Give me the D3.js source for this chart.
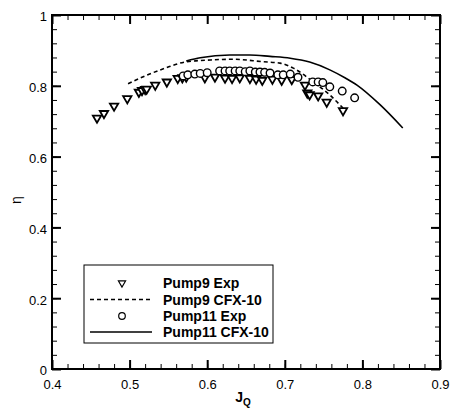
<!DOCTYPE html>
<html>
<head>
<meta charset="utf-8">
<script src="https://cdn.jsdelivr.net/npm/d3@7"></script>
<style>
  html, body { margin: 0; padding: 0; background: #fff; }
  svg { display: block; font-family: "Liberation Sans", Arial, Helvetica, sans-serif; }
</style>
</head>
<body>
<svg id="chart" width="450" height="408"></svg>
<script>
// Pump efficiency vs. flow coefficient J_Q
const pump9ExpJ = [0.458, 0.467, 0.480, 0.497, 0.512, 0.516, 0.520, 0.522, 0.533, 0.548, 0.562, 0.568, 0.573,
  0.597, 0.610, 0.623, 0.632, 0.642, 0.655, 0.663, 0.671, 0.684, 0.696, 0.709, 0.726, 0.729, 0.732, 0.743, 0.754, 0.775];
const pump9ExpEta = [0.709, 0.722, 0.743, 0.764, 0.782, 0.787, 0.790, 0.791, 0.802, 0.811, 0.821, 0.823, 0.825,
  0.823, 0.825, 0.822, 0.821, 0.823, 0.821, 0.819, 0.816, 0.819, 0.816, 0.818, 0.802, 0.780, 0.775, 0.772, 0.754, 0.730];

const pump9CfxJ = [0.498, 0.520, 0.546, 0.571, 0.604, 0.633, 0.672, 0.694, 0.711, 0.736, 0.758, 0.775];
const pump9CfxEta = [0.806, 0.828, 0.850, 0.867, 0.873, 0.875, 0.868, 0.864, 0.850, 0.812, 0.774, 0.737];

const pump11ExpJ = [0.569, 0.575, 0.584, 0.591, 0.600, 0.616, 0.623, 0.629, 0.636, 0.642, 0.649, 0.655, 0.662,
  0.668, 0.674, 0.681, 0.691, 0.698, 0.707, 0.717, 0.736, 0.743, 0.749, 0.758, 0.774, 0.790];
const pump11ExpEta = [0.828, 0.831, 0.833, 0.835, 0.837, 0.842, 0.842, 0.842, 0.842, 0.842, 0.840, 0.842, 0.839,
  0.839, 0.838, 0.836, 0.831, 0.831, 0.833, 0.824, 0.811, 0.811, 0.809, 0.797, 0.785, 0.766];

const pump11CfxJ = [0.573, 0.591, 0.629, 0.655, 0.681, 0.707, 0.732, 0.758, 0.778, 0.793, 0.823, 0.852];
const pump11CfxEta = [0.870, 0.879, 0.887, 0.887, 0.883, 0.878, 0.867, 0.845, 0.822, 0.802, 0.746, 0.681];

const xMajorTicks = [0.4, 0.5, 0.6, 0.7, 0.8, 0.9];
const yMajorTicks = [0, 0.2, 0.4, 0.6, 0.8, 1];
const legendLabels = ["Pump9 Exp", "Pump9 CFX-10", "Pump11 Exp", "Pump11 CFX-10"];

const svg = d3.select("#chart");
const m = { left: 52, right: 440, top: 15, bottom: 369 };

const x = d3.scaleLinear().domain([0.4, 0.9]).range([m.left, m.right]);
const y = d3.scaleLinear().domain([0, 1]).range([m.bottom, m.top]);

const xMinor = d3.range(0.4, 0.9001, 0.02).map(v => +v.toFixed(2));
const yMinor = d3.range(0, 1.0001, 0.04).map(v => +v.toFixed(2));

function styleAxis(g, w) {
  g.select(".domain").remove();
  g.selectAll(".tick line").attr("stroke", "#000").attr("stroke-width", w);
}

// minor ticks, all four sides, pointing inward
svg.append("g").attr("transform", `translate(0,${m.bottom})`)
  .call(d3.axisBottom(x).tickValues(xMinor).tickSize(-5).tickFormat(""))
  .call(g => styleAxis(g, 1));
svg.append("g").attr("transform", `translate(0,${m.top})`)
  .call(d3.axisTop(x).tickValues(xMinor).tickSize(-5).tickFormat(""))
  .call(g => styleAxis(g, 1));
svg.append("g").attr("transform", `translate(${m.left},0)`)
  .call(d3.axisLeft(y).tickValues(yMinor).tickSize(-5).tickFormat(""))
  .call(g => styleAxis(g, 1));
svg.append("g").attr("transform", `translate(${m.right},0)`)
  .call(d3.axisRight(y).tickValues(yMinor).tickSize(-5).tickFormat(""))
  .call(g => styleAxis(g, 1));

// major ticks with labels
svg.append("g").attr("transform", `translate(0,${m.bottom})`)
  .call(d3.axisBottom(x).tickValues(xMajorTicks).tickSize(-9).tickPadding(6).tickFormat(d3.format(".1f")))
  .call(g => styleAxis(g, 2))
  .call(g => g.selectAll("text").attr("font-size", 13).attr("fill", "#000").attr("dy", "1.05em"));
svg.append("g").attr("transform", `translate(0,${m.top})`)
  .call(d3.axisTop(x).tickValues(xMajorTicks).tickSize(-9).tickFormat(""))
  .call(g => styleAxis(g, 2));
svg.append("g").attr("transform", `translate(${m.left},0)`)
  .call(d3.axisLeft(y).tickValues(yMajorTicks).tickSize(-9).tickPadding(5)
    .tickFormat(d => d === 0 || d === 1 ? d3.format("d")(d) : d3.format(".1f")(d)))
  .call(g => styleAxis(g, 2))
  .call(g => g.selectAll("text").attr("font-size", 13).attr("fill", "#000").attr("dy", "0.45em"));
svg.append("g").attr("transform", `translate(${m.right},0)`)
  .call(d3.axisRight(y).tickValues(yMajorTicks).tickSize(-9).tickFormat(""))
  .call(g => styleAxis(g, 2));

// frame
svg.append("rect")
  .attr("x", m.left).attr("y", m.top)
  .attr("width", m.right - m.left).attr("height", m.bottom - m.top)
  .attr("fill", "none").attr("stroke", "#000").attr("stroke-width", 2);

// axis titles
const xt = svg.append("text")
  .attr("x", (m.left + m.right) / 2 - 3).attr("y", 402)
  .attr("text-anchor", "middle").attr("font-weight", "bold").attr("font-size", 14);
xt.append("tspan").text("J");
xt.append("tspan").attr("font-size", 10).attr("dy", 4).text("Q");

svg.append("text")
  .attr("transform", `translate(21,${(m.top + m.bottom) / 2 + 8}) rotate(-90)`)
  .attr("text-anchor", "middle").attr("font-size", 14).text("η");

// CFX curves
const lineGen = d3.line().x(d => x(d[0])).y(d => y(d[1])).curve(d3.curveMonotoneX);
const plot = svg.append("g");

plot.append("path")
  .datum(d3.zip(pump9CfxJ, pump9CfxEta))
  .attr("d", lineGen).attr("fill", "none").attr("stroke", "#000")
  .attr("stroke-width", 1.6).attr("stroke-dasharray", "4,3");

plot.append("path")
  .datum(d3.zip(pump11CfxJ, pump11CfxEta))
  .attr("d", lineGen).attr("fill", "none").attr("stroke", "#000")
  .attr("stroke-width", 1.6);

// experiment markers
const triSym = d3.symbol().type(d3.symbolTriangle).size(30);
plot.append("g").selectAll("path")
  .data(d3.zip(pump9ExpJ, pump9ExpEta))
  .join("path")
  .attr("d", triSym)
  .attr("transform", d => `translate(${x(d[0])},${y(d[1])}) rotate(180)`)
  .attr("fill", "#fff").attr("stroke", "#000").attr("stroke-width", 1.8);

plot.append("g").selectAll("circle")
  .data(d3.zip(pump11ExpJ, pump11ExpEta))
  .join("circle")
  .attr("cx", d => x(d[0])).attr("cy", d => y(d[1])).attr("r", 3.8)
  .attr("fill", "#fff").attr("stroke", "#000").attr("stroke-width", 1.4);

// legend
const lg = svg.append("g");
lg.append("rect").attr("x", 84).attr("y", 265).attr("width", 189).attr("height", 78)
  .attr("fill", "#fff").attr("stroke", "#000").attr("stroke-width", 1);
const rowY = [283, 299.5, 316, 332];
lg.append("path").attr("d", d3.symbol().type(d3.symbolTriangle).size(22))
  .attr("transform", `translate(122,${rowY[0]}) rotate(180)`)
  .attr("fill", "#fff").attr("stroke", "#000").attr("stroke-width", 1.2);
lg.append("line").attr("x1", 90).attr("x2", 152).attr("y1", rowY[1]).attr("y2", rowY[1])
  .attr("stroke", "#000").attr("stroke-width", 1.6).attr("stroke-dasharray", "4,3");
lg.append("circle").attr("cx", 122).attr("cy", rowY[2]).attr("r", 3.3)
  .attr("fill", "#fff").attr("stroke", "#000").attr("stroke-width", 1.2);
lg.append("line").attr("x1", 90).attr("x2", 152).attr("y1", rowY[3]).attr("y2", rowY[3])
  .attr("stroke", "#000").attr("stroke-width", 1.6);
lg.selectAll("text.lab").data(legendLabels).join("text")
  .attr("class", "lab")
  .attr("x", 163).attr("y", (d, i) => rowY[i] + 5)
  .attr("font-size", 14).attr("font-weight", "bold").text(d => d);
</script>
</body>
</html>
